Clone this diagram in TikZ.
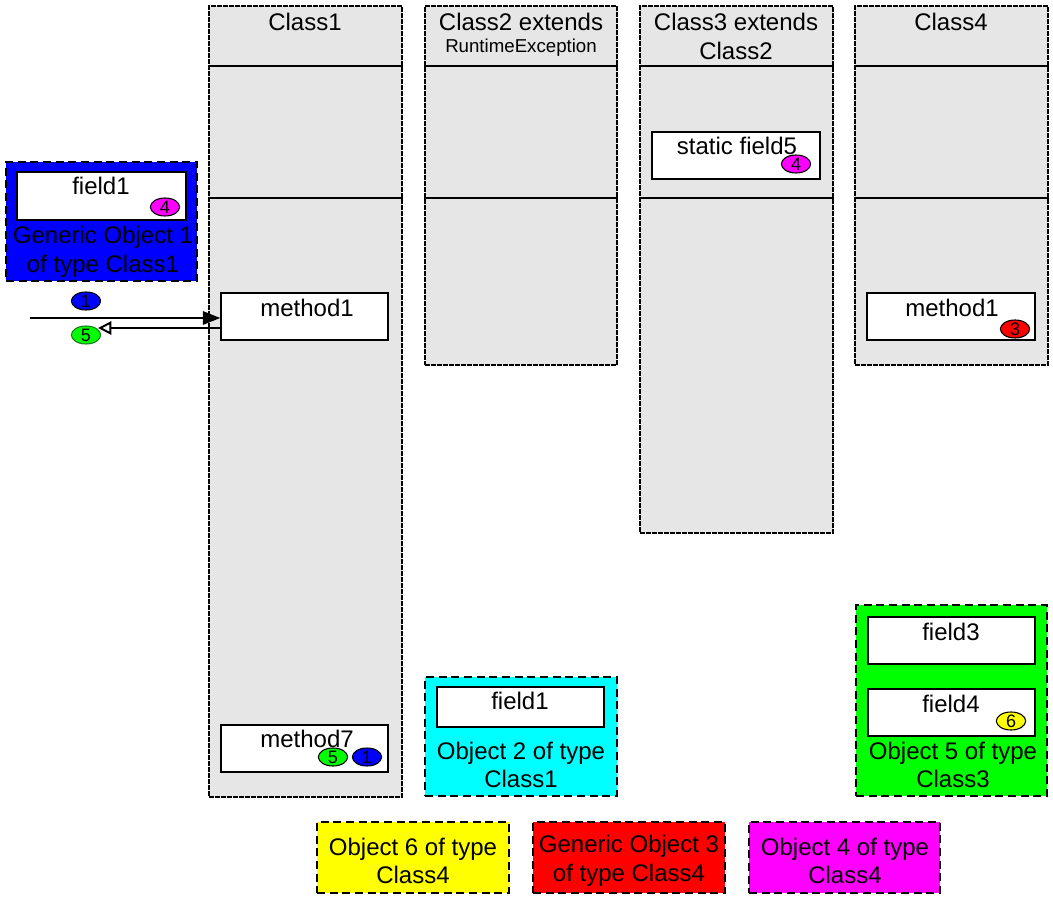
\documentclass[tikz,border=0pt]{standalone}
\usepackage{fontspec}
\setmainfont{Liberation Sans}
\usetikzlibrary{fit,arrows.meta,shapes.geometric}
\definecolor{lanegray}{HTML}{E6E6E6}
\definecolor{objblue}{HTML}{0000FF}
\definecolor{objcyan}{HTML}{00FFFF}
\definecolor{objgreen}{HTML}{00FF00}
\definecolor{objred}{HTML}{FF0000}
\definecolor{objyellow}{HTML}{FFFF00}
\definecolor{objmagenta}{HTML}{FF00FF}
\definecolor{darkgreen}{HTML}{1E7A1E}
\tikzset{
  lanebox/.style={draw, fill=lanegray, line width=1.3pt, dash pattern=on 3.5pt off 1pt, inner sep=0pt},
  divider/.style={line width=1.1pt},
  objbox/.style={draw, line width=2.2pt, dash pattern=on 6pt off 3.5pt, inner sep=0pt},
  slot/.style={draw, fill=white, line width=1.1pt, inner sep=0pt},
  txt/.style={font=\fontsize{18}{21.5}\selectfont, inner sep=0pt, align=center},
  smalltxt/.style={font=\fontsize{14}{16}\selectfont, inner sep=0pt},
  badge/.style={draw, ellipse, line width=0.8pt, minimum width=22pt, minimum height=13.5pt, inner sep=0pt, font=\fontsize{13.5}{13.5}\selectfont},
  conn/.style={line width=1.5pt},
}
\begin{document}
\begin{tikzpicture}[x=0.75pt,y=-0.75pt]
\useasboundingbox (0,0) rectangle (1053,898);

% lanes
\node[lanebox, fit={(209,6) (402,797)}] (c1) {};
\node[lanebox, fit={(425,6) (617,365)}] (c2) {};
\node[lanebox, fit={(640,6) (833,533)}] (c3) {};
\node[lanebox, fit={(855,6) (1048,365)}] (c4) {};
\foreach \c in {c1,c2,c3,c4}{
  \draw[divider] (\c.west |- 0,66) -- (\c.east |- 0,66);
  \draw[divider] (\c.west |- 0,198) -- (\c.east |- 0,198);
}

% headers
\node[txt] (c1h) at (305,22) {Class1};
\node[txt] (c2h) at (521,22) {Class2 extends};
\node[smalltxt] (c2h2) at (521,48) {RuntimeException};
\node[txt] (c3h) at (736,22) {Class3 extends};
\node[txt] (c3h2) at (736,51) {Class2};
\node[txt] (c4h) at (951,22) {Class4};

% Class1 members
\node[slot, fit={(221,293) (388,340)}] (m1) {};
\node[txt] (m1t) at (307,308) {method1};
\node[slot, fit={(221,725) (388,772)}] (m7) {};
\node[txt] (m7t) at (307,739) {method7};
\node[badge, fill=objgreen] (b5m7) at (333,757) {5};
\node[badge, fill=objblue] (b1m7) at (367,757) {1};

% Class3 member
\node[slot, fit={(652,132) (820,179)}] (sf5) {};
\node[txt] (sf5t) at (737,146) {static field5};
\node[badge, fill=objmagenta] (b4sf5) at (796,164) {4};

% Class4 member
\node[slot, fit={(867,293) (1035,340)}] (m41) {};
\node[txt] (m41t) at (952,308) {method1};
\node[badge, fill=objred] (b3m41) at (1015,329) {3};

% Generic Object 1
\node[objbox, fill=objblue, fit={(6,162) (197,281)}] (o1) {};
\node[slot, fit={(17,172) (186,220)}] (o1f1) {};
\node[txt] (o1f1t) at (101,186) {field1};
\node[badge, fill=objmagenta] (b4o1) at (165,207) {4};
\node[txt] (o1t) at (103,252) {Generic Object 1\\of type Class1};

% Object 2
\node[objbox, fill=objcyan, fit={(425,677) (617,796)}] (o2) {};
\node[slot, fit={(437,687) (604,727)}] (o2f1) {};
\node[txt] (o2f1t) at (520,701) {field1};
\node[txt] (o2t) at (521,765) {Object 2 of type\\Class1};

% Object 5
\node[objbox, fill=objgreen, fit={(856,605) (1047,796)}] (o5) {};
\node[slot, fit={(868,617) (1035,664)}] (o5f3) {};
\node[txt] (o5f3t) at (951,632) {field3};
\node[slot, fit={(868,689) (1035,736)}] (o5f4) {};
\node[txt] (o5f4t) at (951,704) {field4};
\node[badge, fill=objyellow] (b6o5) at (1011,721) {6};
\node[txt] (o5t) at (953,765) {Object 5 of type\\Class3};

% legend objects
\node[objbox, fill=objyellow, fit={(317,822) (509,893)}] (o6) {};
\node[txt] (o6t) at (413,861) {Object 6 of type\\Class4};
\node[objbox, fill=objred, fit={(533,822) (725,893)}] (o3) {};
\node[txt] (o3t) at (629,861) {Generic Object 3\\of type Class4};
\node[objbox, fill=objmagenta, fit={(749,822) (940,893)}] (o4) {};
\node[txt] (o4t) at (845,861) {Object 4 of type\\Class4};

% call / return
\coordinate (callstart) at (30,318);
\coordinate (retend) at (98,328);
\draw[conn, -{Triangle[length=13pt,width=10pt]}] (callstart) -- (callstart -| m1.west);
\draw[conn, -{Triangle[open,length=10pt,width=10pt,line width=1.5pt]}] (m1.west |- retend) -- (retend);
\node[badge, fill=objblue] (bcall) at (86,301) {1};
\node[badge, fill=objgreen, draw=darkgreen] (bret) at (86,335) {5};
\end{tikzpicture}
\end{document}
